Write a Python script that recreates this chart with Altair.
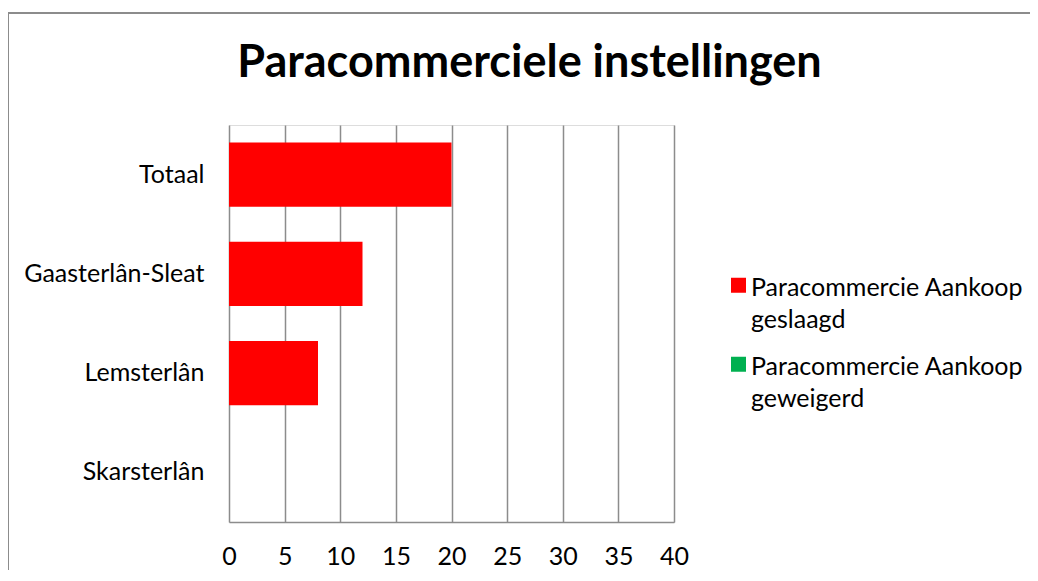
import altair as alt
import pandas as pd

categories = ["Totaal", "Gaasterlân-Sleat", "Lemsterlân", "Skarsterlân"]
series = ["Paracommercie Aankoop geslaagd", "Paracommercie Aankoop geweigerd"]
geslaagd = [20, 12, 8, 0]
geweigerd = [0, 0, 0, 0]
x_ticks = [0, 5, 10, 15, 20, 25, 30, 35, 40]
colors = ["#ff0000", "#00b050"]

rows = []
for c, a, b in zip(categories, geslaagd, geweigerd):
    rows.append({"categorie": c, "reeks": series[0], "aantal": a})
    rows.append({"categorie": c, "reeks": series[1], "aantal": b})
df = pd.DataFrame(rows)

FONT = "Lato"
FS = 25

bars = alt.Chart(df).mark_bar(strokeWidth=0).encode(
    x=alt.X("aantal:Q", stack=None,
            scale=alt.Scale(domain=[0, 40], nice=False, zero=True),
            axis=alt.Axis(values=x_ticks, title=None, grid=True, gridColor="#8c8c8c",
                          gridWidth=1.5, domain=True, domainColor="#8c8c8c", domainWidth=1.5,
                          ticks=False, labelPadding=22, labelFontSize=FS, labelColor="#000000",
                          labelFont=FONT, labelFlush=False)),
    y=alt.Y("categorie:N", sort=categories,
            scale=alt.Scale(paddingInner=0.355, paddingOuter=0.1775),
            axis=alt.Axis(title=None, domain=False, ticks=False, grid=False, labelPadding=25,
                          labelFontSize=FS, labelColor="#000000", labelFont=FONT,
                          labelLimit=400)),
    color=alt.Color("reeks:N",
                    scale=alt.Scale(domain=series, range=colors),
                    legend=alt.Legend(title=None, orient="none", legendX=497, legendY=138,
                                      symbolType="M-1,0.3H1V2.3H-1Z", symbolSize=225,
                                      symbolStrokeWidth=0,
                                      labelFontSize=FS, labelFont=FONT, labelColor="#000000",
                                      labelExpr="split(replace(datum.label, 'Aankoop ', 'Aankoop|'), '|')",
                                      labelLimit=400, rowPadding=9, labelOffset=0,
                                      labelBaseline="top", padding=0)),
)

border = alt.Chart(pd.DataFrame({"k": [0]})).mark_rule(color="#8c8c8c", strokeWidth=2)
border_top = border.encode(x=alt.value(-221), x2=alt.value(900), y=alt.value(-112))
border_left = border.encode(x=alt.value(-221), y=alt.value(-112), y2=alt.value(500))

chart = alt.layer(bars, border_top, border_left).properties(
    width=445, height=397,
    autosize=alt.AutoSizeParams(type="none"),
    padding={"left": 221, "top": 117, "right": 356, "bottom": 48},
    title=alt.TitleParams("Paracommerciele instellingen", font=FONT, fontSize=45,
                          fontWeight="bold", color="#000000", anchor="middle", frame="group",
                          baseline="alphabetic", dx=78, dy=110, offset=0),
).configure_view(stroke=None).configure(
    style={"guide-label": {"lineHeight": 32}}
)

chart.save("out.html", embed_options={"renderer": "svg", "actions": False})
